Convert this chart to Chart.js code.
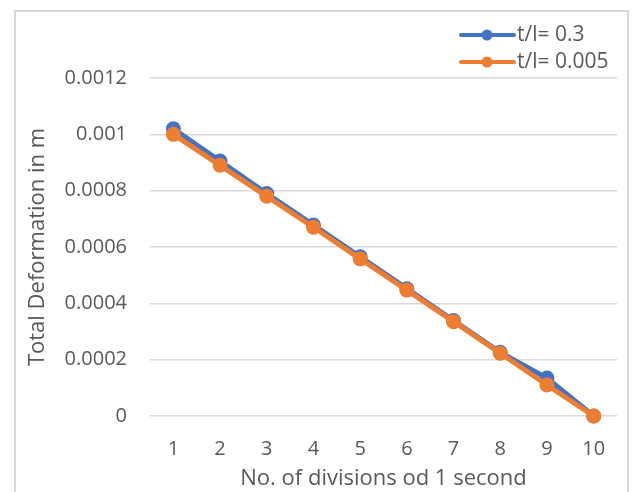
<!DOCTYPE html>
<html>
<head>
<meta charset="utf-8">
<script src="https://cdn.jsdelivr.net/npm/chart.js@4"></script>
<style>
    html, body { margin: 0; padding: 0; background: #fff; }
    #frame { position: absolute; left: 14px; top: 10px; width: 615px; height: 490px; box-sizing: border-box; border: 2px solid #d9d9d9; }
    #wrap { position: absolute; left: 0; top: 0; width: 632px; height: 492px; }
</style>
</head>
<body>
<div id="frame"></div>
<div id="wrap"><canvas id="deformChart" width="632" height="492"></canvas></div>
<script>
// ===== DATA =====
const divisions = ['1', '2', '3', '4', '5', '6', '7', '8', '9', '10'];
const seriesNames = ['t/l= 0.3', 't/l= 0.005'];
const thick = [0.00102, 0.000905, 0.00079, 0.000678, 0.000565, 0.000452, 0.000339, 0.000226, 0.000135, 0];
const thin = [0.001, 0.00089, 0.00078, 0.00067, 0.000558, 0.000447, 0.000335, 0.000223, 0.00011, 0];
const yTicks = [0, 0.0002, 0.0004, 0.0006, 0.0008, 0.001, 0.0012];
const yTickLabels = ['0', '0.0002', '0.0004', '0.0006', '0.0008', '0.001', '0.0012'];

const BLUE = '#4472C4';
const ORANGE = '#ED7D31';
const FONT = "'Open Sans', 'Liberation Sans', sans-serif";
const TEXT = '#595959';

// legend drawn inside the top right corner, like the Excel one
const cornerLegend = {
    id: 'cornerLegend',
    afterDraw(chart) {
        const ctx = chart.ctx;
        const items = [
            { label: seriesNames[0], color: BLUE, y: 35 },
            { label: seriesNames[1], color: ORANGE, y: 62 },
        ];
        ctx.save();
        items.forEach(it => {
            ctx.strokeStyle = it.color;
            ctx.lineWidth = 4;
            ctx.lineCap = 'round';
            ctx.beginPath();
            ctx.moveTo(461, it.y);
            ctx.lineTo(514, it.y);
            ctx.stroke();
            ctx.fillStyle = it.color;
            ctx.beginPath();
            ctx.arc(487, it.y, 5.5, 0, Math.PI * 2);
            ctx.fill();
            ctx.fillStyle = TEXT;
            ctx.font = '21px ' + FONT;
            ctx.textAlign = 'left';
            ctx.textBaseline = 'middle';
            ctx.fillText(it.label, 517, it.y);
        });
        ctx.restore();
    }
};

new Chart(document.getElementById('deformChart').getContext('2d'), {
    type: 'line',
    data: {
        labels: divisions,
        datasets: [
            {
                label: seriesNames[0],
                data: thick,
                borderColor: BLUE,
                backgroundColor: BLUE,
                borderWidth: 5,
                pointRadius: 7.5,
                pointBorderWidth: 0,
                pointBackgroundColor: BLUE,
                tension: 0,
                clip: false,
                order: 1,
            },
            {
                label: seriesNames[1],
                data: thin,
                borderColor: ORANGE,
                backgroundColor: ORANGE,
                borderWidth: 5,
                pointRadius: 7.5,
                pointBorderWidth: 0,
                pointBackgroundColor: ORANGE,
                tension: 0,
                clip: false,
                order: 0,
            },
        ]
    },
    options: {
        responsive: false,
        animation: false,
        layout: { padding: { top: 78, right: 15, left: 0, bottom: 0 } },
        plugins: { legend: { display: false }, tooltip: { enabled: false } },
        scales: {
            x: {
                offset: true,
                grid: { display: false },
                border: { display: false },
                ticks: { color: TEXT, font: { family: FONT, size: 20 }, padding: 13 },
                title: { display: true, text: 'No. of divisions od 1 second', color: TEXT, font: { family: FONT, size: 22 }, padding: { top: 0, bottom: 0 } },
                afterFit(scale) { scale.height = 76; },
            },
            y: {
                min: 0,
                max: 0.0012,
                grid: { color: '#d9d9d9', lineWidth: 1.5, drawTicks: false },
                border: { display: false },
                afterBuildTicks(scale) { scale.ticks = yTicks.map(v => ({ value: v })); },
                ticks: {
                    color: TEXT,
                    font: { family: FONT, size: 20 },
                    padding: 23,
                    callback: (v, i) => yTickLabels[i],
                },
                title: { display: true, text: 'Total Deformation in m', color: TEXT, font: { family: FONT, size: 22 }, padding: { top: 25, bottom: 0 } },
                afterFit(scale) { scale.width = 150; },
            },
        }
    },
    plugins: [cornerLegend]
});
</script>
</body>
</html>
